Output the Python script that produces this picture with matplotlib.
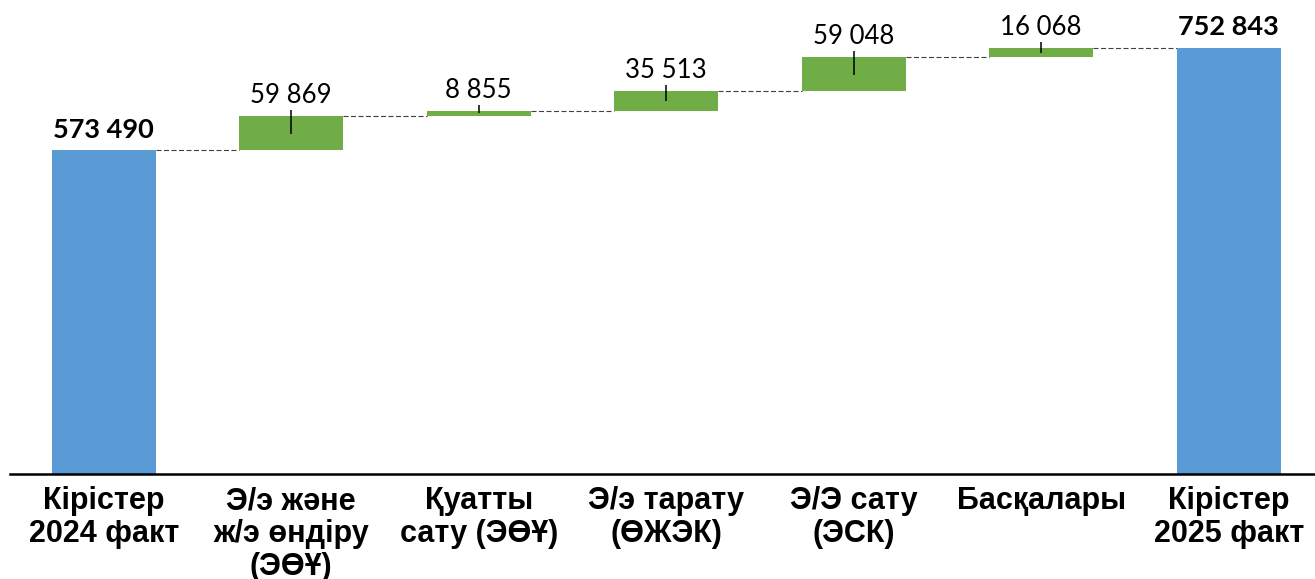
import numpy as np
import matplotlib.pyplot as plt

plt.rcParams['lines.scale_dashes'] = False

categories = ["Кірістер\n2024 факт", "Э/э және\nж/э өндіру\n(ЭӨҰ)", "Қуатты\nсату (ЭӨҰ)",
              "Э/э тарату\n(ӨЖЭК)", "Э/Э сату\n(ЭСК)", "Басқалары", "Кірістер\n2025 факт"]
start_value = 573490
changes = np.array([59869, 8855, 35513, 59048, 16068])
end_value = 752843

blue = "#5B9BD5"
green = "#70AD47"

# waterfall geometry
n = len(categories)
x = np.arange(n)
cum = start_value + np.cumsum(changes)
bottoms = np.concatenate([[0], cum - changes, [0]])
heights = np.concatenate([[start_value], changes, [end_value]])
tops = bottoms + heights
colors = [blue] + [green] * len(changes) + [blue]
w = 0.557

fig = plt.figure(figsize=(13.15, 5.79), dpi=100)
ax = fig.add_axes([10 / 1315, (579 - 473.5) / 579, 1305 / 1315, 473.5 / 579])

ax.bar(x, heights, bottom=bottoms, width=w, color=colors, zorder=2)

# dashed connectors
for i in range(n - 1):
    ax.hlines(tops[i], x[i] + w / 2, x[i + 1] - w / 2, colors="#404040",
              linewidth=0.8, linestyles=(0, (3.6, 1.8)), zorder=1)

# small leader lines on the change bars
xc = x[1:-1]
ax.vlines(xc, bottoms[1:-1] + changes * 0.47, tops[1:-1] + 9600,
          colors="black", linewidth=1.1, zorder=3)

# value labels
for i in range(n):
    bold = i in (0, n - 1)
    txt = f"{heights[i]:,}".replace(",", " ")
    ax.annotate(txt, (x[i], tops[i]), xytext=(0, 9), textcoords="offset points",
                ha="center", va="baseline", fontsize=19.5 if bold else 18.5,
                fontweight="bold" if bold else "normal", family="Lato", color="black")

ax.set_xlim(-0.5, 6.46)
ax.set_ylim(6300, 836500)
ax.set_xticks(x)
labels = ax.set_xticklabels(categories, fontsize=22, fontweight="bold",
                            family=["Liberation Sans", "DejaVu Sans"])
for lab in labels:
    lab.set_linespacing(1.12)
ax.tick_params(axis="x", length=0, pad=9)
ax.set_yticks([])
for s in ["top", "left", "right"]:
    ax.spines[s].set_visible(False)
ax.spines["bottom"].set_linewidth(1.8)
ax.spines["bottom"].set_zorder(4)

fig.savefig("out.png", dpi=100)
